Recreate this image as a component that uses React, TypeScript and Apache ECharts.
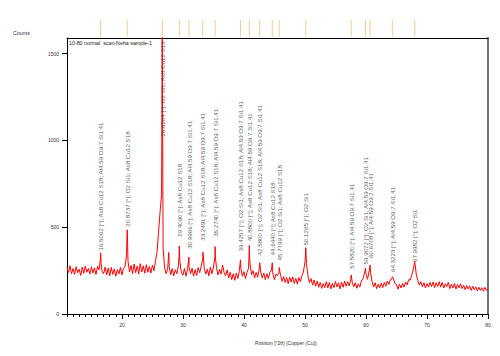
import React, { useEffect, useRef } from "react";
import * as echarts from "echarts";

// ---- data ----
const bgStart = 11;
const bgStep = 0.25;
// measured counts, one row per degree (x.00, x.25, x.50, x.75)
const background: number[] = [
  268, 240, 278, 232, // 11
  262, 228, 272, 238, // 12
  258, 222, 270, 235, // 13
  276, 240, 262, 230, // 14
  272, 236, 266, 228, // 15
  274, 255, 330, 244, // 16
  232, 270, 225, 264, // 17
  220, 268, 228, 260, // 18
  218, 256, 230, 268, // 19
  225, 264, 272, 335, // 20
  305, 242, 280, 232, // 21
  288, 238, 276, 230, // 22
  290, 242, 278, 235, // 23
  284, 240, 274, 236, // 24
  282, 250, 305, 355, // 25
  470, 585, 690, 380, // 26
  265, 232, 262, 272, // 27
  225, 262, 220, 255, // 28
  232, 276, 300, 238, // 29
  224, 262, 218, 256, // 30
  270, 232, 264, 218, // 31
  256, 222, 268, 238, // 32
  276, 320, 262, 230, // 33
  258, 220, 270, 232, // 34
  268, 330, 268, 225, // 35
  256, 230, 282, 238, // 36
  220, 254, 208, 240, // 37
  198, 232, 194, 236, // 38
  205, 250, 262, 218, // 39
  244, 204, 240, 262, // 40
  288, 226, 250, 208, // 41
  240, 212, 258, 242, // 42
  208, 236, 198, 232, // 43
  204, 240, 250, 230, // 44
  198, 230, 222, 240, // 45
  222, 188, 216, 182, // 46
  210, 174, 212, 184, // 47
  214, 176, 206, 172, // 48
  210, 186, 220, 242, // 49
  300, 292, 218, 180, // 50
  204, 166, 196, 160, // 51
  190, 154, 182, 148, // 52
  176, 152, 186, 150, // 53
  182, 145, 176, 152, // 54
  188, 156, 180, 145, // 55
  184, 154, 190, 160, // 56
  186, 162, 198, 182, // 57
  156, 180, 148, 174, // 58
  155, 190, 204, 236, // 59
  232, 200, 242, 238, // 60
  186, 155, 180, 146, // 61
  172, 150, 178, 152, // 62
  182, 160, 190, 170, // 63
  198, 202, 204, 176, // 64
  170, 143, 172, 150, // 65
  176, 155, 184, 168, // 66
  198, 196, 224, 256, // 67
  295, 226, 192, 166, // 68
  186, 156, 180, 150, // 69
  176, 155, 182, 158, // 70
  184, 152, 180, 160, // 71
  186, 155, 182, 150, // 72
  174, 158, 182, 146, // 73
  172, 150, 176, 144, // 74
  170, 150, 174, 146, // 75
  166, 140, 164, 144, // 76
  162, 136, 160, 140, // 77
  156, 134, 154, 136, // 78
  152, 131, 154, 136, // 79
  145, // 80
];

const peakPoints: [number, number][] = [
  [16.42, 300], [16.51, 352], [16.6, 290],
  [20.81, 410], [20.87, 485], [20.94, 390],
  [26.56, 1150], [26.62, 1760], [26.68, 1050],
  [27.68, 355],
  [29.36, 330], [29.41, 392], [29.46, 340],
  [30.99, 328],
  [33.28, 356],
  [35.27, 388], [35.33, 320],
  [36.5, 282],
  [39.43, 312],
  [40.83, 330], [40.88, 395], [40.93, 330],
  [42.58, 295],
  [44.64, 295],
  [45.78, 268],
  [50.08, 340], [50.13, 382], [50.18, 345],
  [57.58, 225],
  [59.86, 250], [59.91, 265],
  [60.62, 270], [60.67, 282],
  [64.32, 214],
  [67.94, 290], [67.99, 302], [68.06, 285],
];

const peakPositions = [
  16.5062, 20.8737, 26.6204, 29.409, 30.9966, 33.2491, 35.274, 39.4257, 40.88,
  42.58, 44.644, 45.7799, 50.1265, 57.582, 59.9072, 60.6708, 64.3223, 67.9982,
];
const peakHeights = [
  357, 494, 1013, 436, 367, 413, 436, 352, 410, 329, 329, 300, 386, 252, 277, 314, 233, 291,
];
const peakLabels = [
  "16.5062 [°]; As8 Cu12 S18; Al4.59 O9.7 Si1.41",
  "20.8737 [°]; O2 Si1; As8 Cu12 S18",
  "26.6204 [°]; O2 Si1; As8 Cu12 S18",
  "29.4090 [°]; As8 Cu12 S18",
  "30.9966 [°]; As8 Cu12 S18; Al4.59 O9.7 Si1.41",
  "33.2491 [°]; As8 Cu12 S18; Al4.59 O9.7 Si1.41",
  "35.2740 [°]; As8 Cu12 S18; Al4.59 O9.7 Si1.41",
  "39.4257 [°]; O2 Si1; As8 Cu12 S18; Al4.59 O9.7 Si1.41",
  "40.8800 [°]; As8 Cu12 S18; Al4.59 O9.7 Si1.41",
  "42.5800 [°]; O2 Si1; As8 Cu12 S18; Al4.59 O9.7 Si1.41",
  "44.6440 [°]; As8 Cu12 S18",
  "45.7799 [°]; O2 Si1; As8 Cu12 S18",
  "50.1265 [°]; O2 Si1",
  "57.5820 [°]; Al4.59 O9.7 Si1.41",
  "59.9072 [°]; O2 Si1; Al4.59 O9.7 Si1.41",
  "60.6708 [°]; Al4.59 O9.7 Si1.41",
  "64.3223 [°]; Al4.59 O9.7 Si1.41",
  "67.9982 [°]; O2 Si1",
];

const xTicks = [20, 30, 40, 50, 60, 70, 80];
const yTicks = [0, 500, 1000, 1500];
const xMin = 11;
const xMax = 80;
const yMax = 1590;

const FONT = "Liberation Sans";

export default function App() {
  const ref = useRef<HTMLDivElement>(null);
  useEffect(() => {
    if (!ref.current) return;
    const chart = echarts.init(ref.current, undefined, { renderer: "svg" });
    const pattern = background
      .map((v, i) => [bgStart + i * bgStep, v] as [number, number])
      .concat(peakPoints)
      .sort((a, b) => a[0] - b[0]);

    chart.setOption({
      animation: false,
      backgroundColor: "#ffffff",
      textStyle: { fontFamily: FONT },
      grid: [
        { left: 67, right: 12, top: 38, bottom: 42 },
        { left: 67, right: 12, top: 20, height: 17 },
      ],
      xAxis: [
        {
          type: "value", gridIndex: 0, min: xMin, max: xMax, position: "bottom",
          axisLine: { show: true, lineStyle: { color: "#000", width: 1 } },
          axisTick: { show: true, length: 5, customValues: xTicks, lineStyle: { color: "#000" } },
          axisLabel: { customValues: xTicks, fontSize: 5, color: "#333", margin: 8, formatter: (v: number) => String(v) },
          splitLine: { show: false },
        },
        {
          type: "value", gridIndex: 0, min: xMin, max: xMax, interval: 1, position: "bottom",
          axisLine: { show: false },
          axisTick: { show: true, length: 3, lineStyle: { color: "#000" } },
          axisLabel: { show: false },
          splitLine: { show: false },
        },
        {
          type: "value", gridIndex: 0, min: xMin, max: xMax, position: "top",
          axisLine: { show: true, lineStyle: { color: "#000", width: 1 } },
          axisTick: { show: false }, axisLabel: { show: false }, splitLine: { show: false },
        },
        {
          type: "value", gridIndex: 1, min: xMin, max: xMax, show: false,
        },
      ],
      yAxis: [
        {
          type: "value", gridIndex: 0, min: 0, max: yMax, interval: 500,
          axisLine: { show: true, lineStyle: { color: "#000", width: 1 } },
          axisTick: { show: true, length: 5, customValues: yTicks, lineStyle: { color: "#000" } },
          axisLabel: { customValues: yTicks, fontSize: 5, color: "#333", margin: 8, formatter: (v: number) => String(v) },
          splitLine: { show: false },
        },
        {
          type: "value", gridIndex: 0, min: 0, max: yMax, position: "right",
          axisLine: { show: true, lineStyle: { color: "#707070", width: 2 } },
          axisTick: { show: false }, axisLabel: { show: false }, splitLine: { show: false },
        },
        { type: "value", gridIndex: 1, min: 0, max: 1, show: false },
      ],
      series: [
        {
          type: "line", xAxisIndex: 0, yAxisIndex: 0, data: pattern,
          symbol: "none", clip: true,
          lineStyle: { color: "#ff0000", width: 1 },
          z: 2,
        },
        {
          type: "scatter", xAxisIndex: 0, yAxisIndex: 0,
          data: peakPositions.map((x, i) => [x, peakHeights[i]]),
          symbolSize: 1,
          itemStyle: { color: "transparent" },
          label: {
            show: true, position: "top", distance: 1, rotate: 90,
            align: "left", verticalAlign: "middle",
            fontSize: 6.2, color: "#333", fontFamily: FONT,
            formatter: (p: any) => peakLabels[p.dataIndex],
          },
          z: 3,
        },
        {
          type: "scatter", xAxisIndex: 3, yAxisIndex: 2,
          data: peakPositions.map((x) => [x, 0.5]),
          symbol: "rect", symbolSize: [1, 17],
          itemStyle: { color: "#f2c07a" },
        },
      ],
      graphic: [
        { type: "text", left: 13, top: 30, style: { text: "Counts", fontSize: 5.3, fill: "#333", fontFamily: FONT } },
        { type: "text", left: 69, top: 40.5, style: { text: "10-80 normal  scan-Neha sample-1", fontSize: 5.3, fill: "#222", fontFamily: FONT } },
        { type: "text", left: 255, top: 340, style: { text: "Position [°2θ] (Copper (Cu))", fontSize: 5, fill: "#333", fontFamily: FONT } },
      ],
    });
    return () => chart.dispose();
  }, []);
  return (
    <div
      ref={ref}
      style={{ position: "fixed", left: 0, top: 0, width: 500, height: 356, background: "#fff" }}
    />
  );
}
